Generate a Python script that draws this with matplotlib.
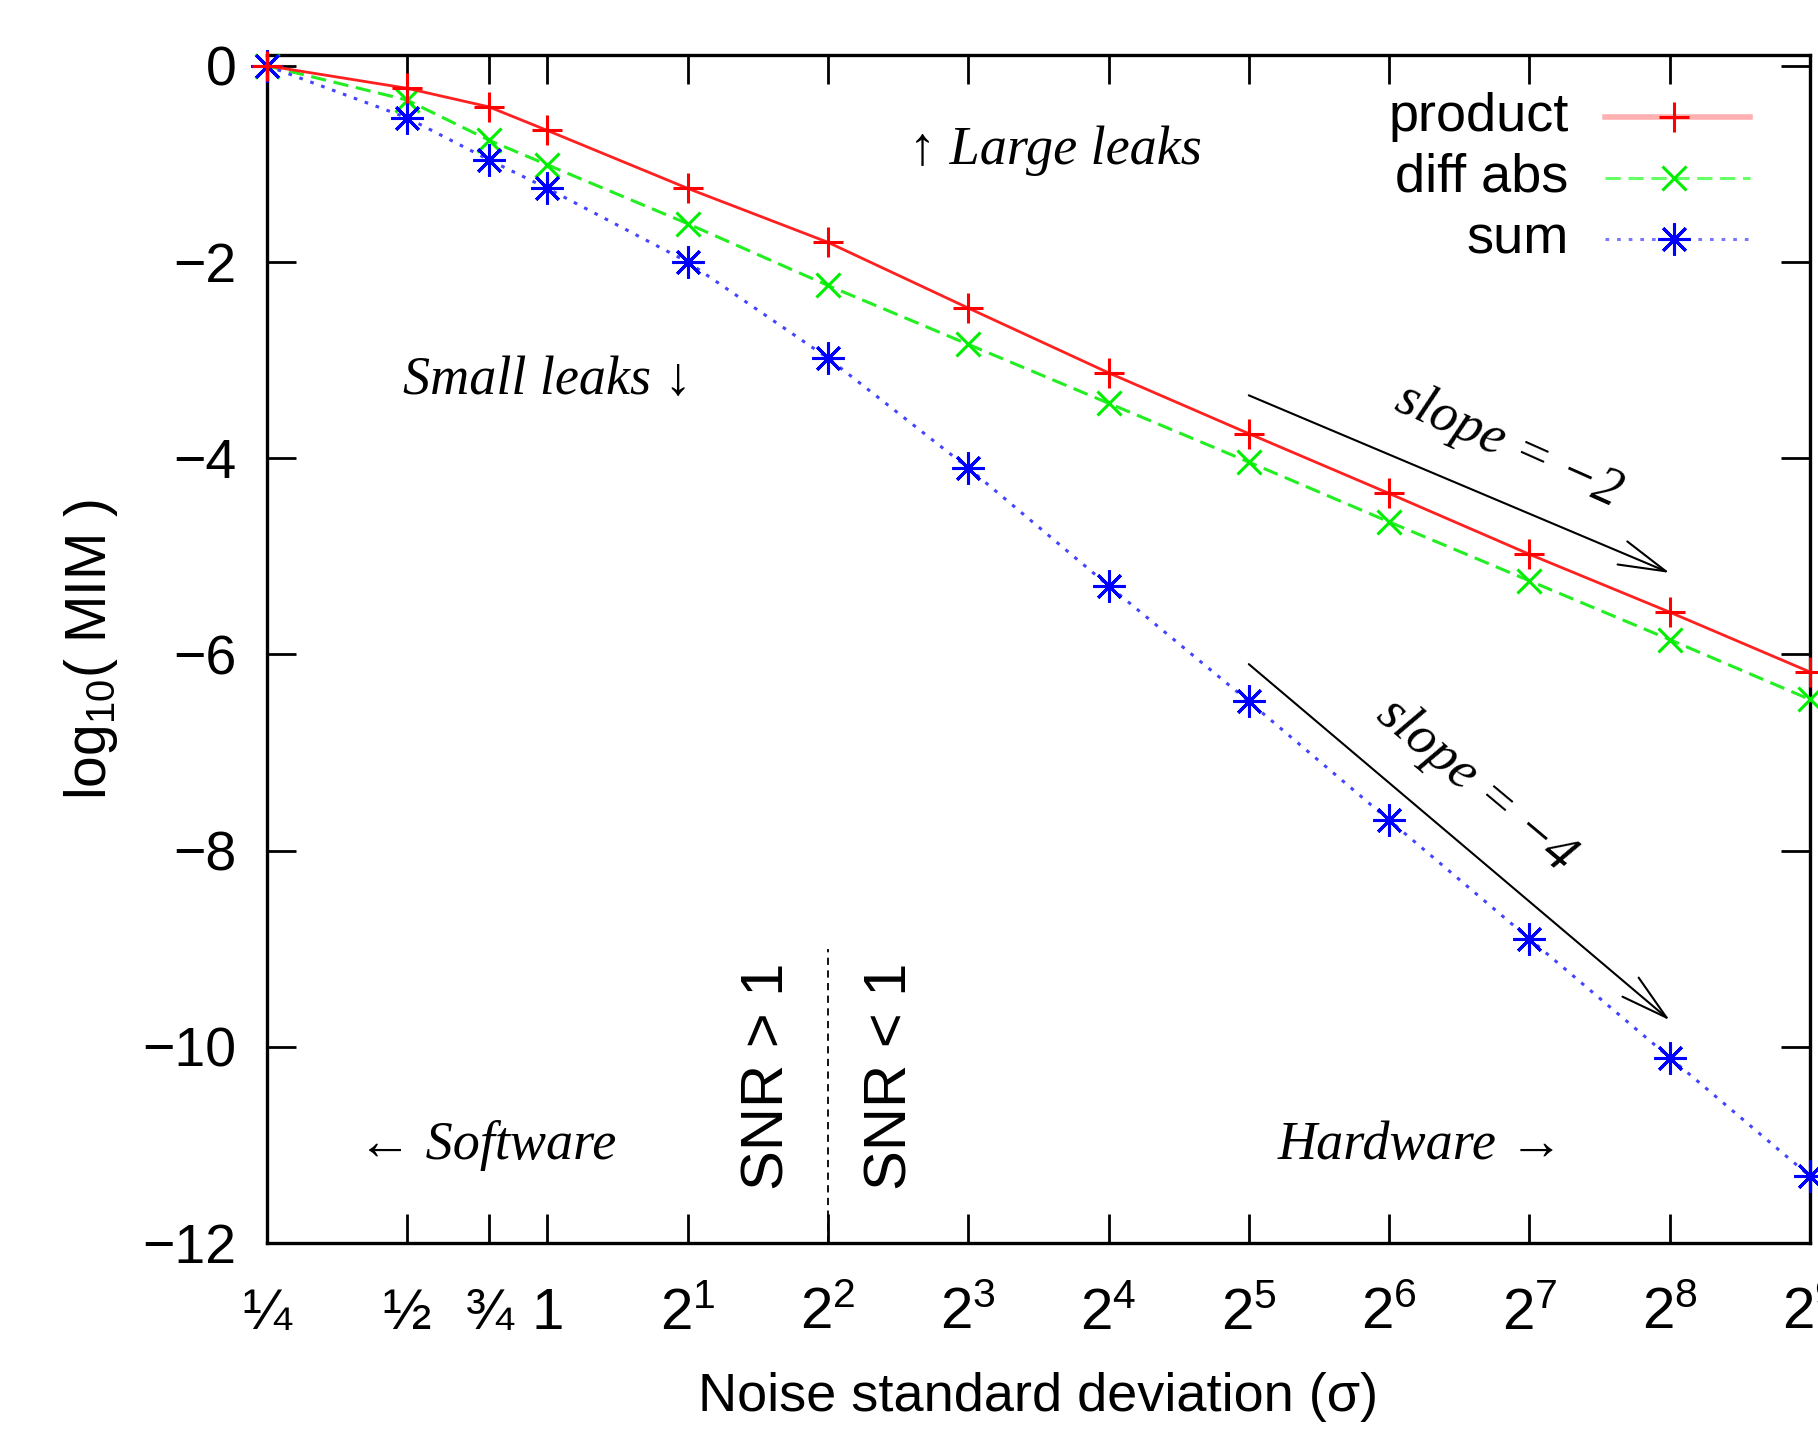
import matplotlib

matplotlib.use("Agg")

import matplotlib.pyplot as plt
from matplotlib.lines import Line2D

# noise levels (sigma) and log10(MIM) for each combining function
sigma = [0.25, 0.5, 0.75, 1, 2, 4, 8, 16, 32, 64, 128, 256, 512]
product = [0.0, -0.23, -0.42, -0.66, -1.25, -1.80, -2.47, -3.13, -3.75, -4.36, -4.98, -5.57, -6.18]
diff_abs = [0.0, -0.35, -0.76, -1.01, -1.61, -2.24, -2.84, -3.44, -4.04, -4.65, -5.25, -5.85, -6.46]
sum_ = [0.0, -0.53, -0.96, -1.25, -2.00, -2.98, -4.10, -5.30, -6.48, -7.69, -8.90, -10.11, -11.32]

xtick_pos = [0.25, 0.5, 0.75, 1, 2, 4, 8, 16, 32, 64, 128, 256, 512]
xtick_labels = ["¼", "½", "¾", "1"] + [r"$\mathregular{2^{%d}}$" % k for k in range(1, 10)]
ytick_pos = [0, -2, -4, -6, -8, -10, -12]

# SNR = 1 boundary and the two slope guides (start, end) in data units
snr_sigma = 4
snr_line_top = -9.0
slope2_x = [32, 256]
slope2_y = [-3.36, -5.17]
slope4_x = [32, 256]
slope4_y = [-6.10, -9.73]

SANS = ["Liberation Sans", "DejaVu Sans"]
SERIF = ["Liberation Serif", "DejaVu Serif"]

plt.rcParams["font.family"] = SANS
plt.rcParams["mathtext.fontset"] = "custom"
plt.rcParams["mathtext.rm"] = "Liberation Sans"
plt.rcParams["mathtext.it"] = "Liberation Sans:italic"

fig = plt.figure(figsize=(18.18, 14.30), dpi=100)
ax = fig.add_axes([0.1467, 0.1308, 0.8489, 0.8308])

red = "#ff2020"
green = "#22ee22"
blue = "#4444ff"

ax.plot(sigma, product, color=red, lw=2.0, marker="+", ms=22, mew=2.2,
        mec="#ff0000", clip_on=False, zorder=4)
ax.plot(sigma, diff_abs, color=green, lw=2.2, ls=(0, (5, 2.5)), marker="x", ms=17,
        mew=2.2, mec="#00ee00", clip_on=False, zorder=3)
ax.plot(sigma, sum_, color=blue, lw=2.2, ls=(0, (1.2, 2.6)), marker=(8, 2, 0), ms=23,
        mew=2.2, mec="#0000ff", clip_on=False, zorder=3)

ax.set_xscale("log", base=2)
ax.set_xlim(0.25, 512)
ax.set_ylim(-12, 0.11)
ax.set_xticks(xtick_pos)
ax.set_xticklabels(xtick_labels)
ax.xaxis.set_minor_locator(matplotlib.ticker.NullLocator())
ax.set_yticks(ytick_pos)
ax.set_yticklabels(["0"] + ["\u2212%d" % -v for v in ytick_pos[1:]])

for s in ax.spines.values():
    s.set_linewidth(2.4)
ax.tick_params(direction="in", length=21, width=2.0, top=True, right=True)
ax.tick_params(axis="y", labelsize=40, pad=22)
ax.tick_params(axis="x", labelsize=42, pad=62)
for lbl in ax.get_xticklabels():
    lbl.set_va("baseline")

ax.set_xlabel("Noise standard deviation (σ)", fontsize=39, labelpad=22)
ax.set_ylabel(r"log$_{10}$( MIM )", fontsize=41, labelpad=16)

# SNR boundary
ax.vlines(snr_sigma, -12, snr_line_top, colors="black", lw=1.3, linestyles=(0, (4, 3)))
ax.text(0.325, 0.1405, "SNR > 1", transform=ax.transAxes, rotation=90,
        ha="center", va="center", fontsize=43)
ax.text(0.4045, 0.1405, "SNR < 1", transform=ax.transAxes, rotation=90,
        ha="center", va="center", fontsize=43)

# slope guides
arrow = dict(arrowstyle="->,head_length=1.7,head_width=0.45", mutation_scale=20,
             lw=1.5, color="black", shrinkA=0, shrinkB=0)
ax.annotate("", xy=(slope2_x[1], slope2_y[1]), xytext=(slope2_x[0], slope2_y[0]),
            arrowprops=arrow)
ax.annotate("", xy=(slope4_x[1], slope4_y[1]), xytext=(slope4_x[0], slope4_y[0]),
            arrowprops=arrow)

serif = dict(family=SERIF, style="italic", fontsize=39, transform=ax.transAxes,
             ha="center", va="center")
ax.text(0.8045, 0.671, "slope = \u22122", rotation=-24, rotation_mode="anchor", **serif)
ax.text(0.7835, 0.3856, "slope = \u22124", rotation=-40, rotation_mode="anchor", **serif)
ax.text(0.511, 0.919, "↑ Large leaks", **serif)
ax.text(0.182, 0.726, "Small leaks ↓", **serif)
ax.text(0.143, 0.082, "← Software", **serif)
ax.text(0.748, 0.082, "Hardware →", **serif)

# gnuplot-style key: right-aligned labels, sample on the right
key_rows = [
    ("product", dict(color="#ffb0b0", lw=4.0), dict(marker="+", ms=22, mew=2.2, mec="#ff0000")),
    ("diff abs", dict(color="#66ff66", lw=2.2, ls=(0, (5, 2.5))), dict(marker="x", ms=17, mew=2.2, mec="#00ee00")),
    ("sum", dict(color="#7777ff", lw=2.2, ls=(0, (1.2, 2.6))), dict(marker=(8, 2, 0), ms=23, mew=2.2, mec="#0000ff")),
]
for i, (label, line_kw, mark_kw) in enumerate(key_rows):
    yk = 0.948 - i * 0.0515
    ax.text(0.8436, yk, label, transform=ax.transAxes, ha="right", va="center", fontsize=39)
    ax.add_line(Line2D([0.8669, 0.961], [yk, yk], transform=ax.transAxes, **line_kw))
    ax.add_line(Line2D([0.912], [yk], transform=ax.transAxes, ls="none", **mark_kw))

fig.savefig("out.png", dpi=100)
